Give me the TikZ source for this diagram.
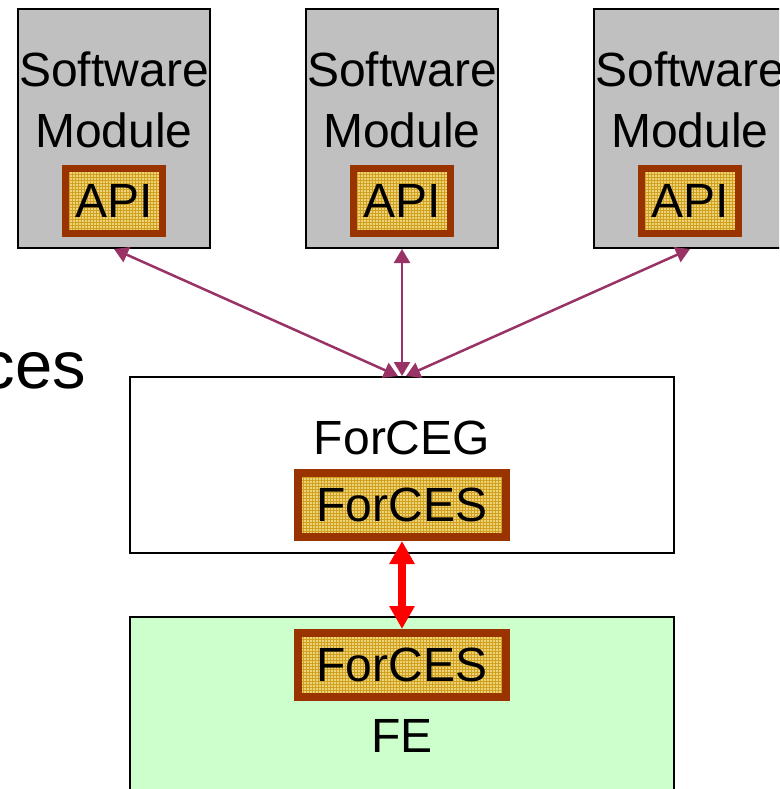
\documentclass[tikz,border=0pt]{standalone}
\usepackage{fontspec}
\setmainfont{Liberation Sans}
\usetikzlibrary{arrows.meta,patterns}
\definecolor{modgray}{RGB}{192,192,192}
\definecolor{brickred}{RGB}{153,51,0}
\definecolor{padfill}{RGB}{236,212,122}
\definecolor{padgrid}{RGB}{208,160,30}
\definecolor{linkpurple}{RGB}{153,51,102}
\definecolor{fegreen}{RGB}{204,255,204}
\tikzset{
  every node/.style={font=\fontsize{48}{57}\selectfont, inner sep=0pt},
  module/.style={draw=black, line width=2pt, fill=modgray,
    minimum width=192pt, minimum height=239pt},
  pad/.style={draw=brickred, line width=#1, preaction={fill=padfill},
    pattern=grid, pattern color=padgrid},
  apipad/.style={pad=7pt, minimum width=97pt, minimum height=65pt},
  forcespad/.style={pad=8pt, minimum width=208pt, minimum height=64pt},
  element/.style={draw=black, line width=2pt, minimum width=544pt},
  link/.style={linkpurple, line width=2.5pt,
    {Triangle[length=14pt,width=16pt]}-{Triangle[length=14pt,width=16pt]}},
  forceslink/.style={red, line width=8pt,
    {Triangle[length=23pt,width=24pt]}-{Triangle[length=23pt,width=24pt]}},
}
\begin{document}
\begin{tikzpicture}[x=1pt,y=-1pt]
  \useasboundingbox (0,0) rectangle (779,789);
  \fill[white] (0,0) rectangle (779,789);
  \clip (0,0) rectangle (779,789);

  % heading fragment on the left
  \node[font=\fontsize{67}{80}\selectfont, anchor=base east] (heading) at (86,388) {ces};

  % software modules, each exposing an API
  \foreach \i/\x in {1/114, 2/402, 3/690} {
    \node[module] (m\i) at (\x,128.5) {};
    \node[anchor=base] (m\i top) at (\x,87) {Software};
    \node[anchor=base] (m\i bot) at (\x,147) {Module};
    \node[apipad] (api\i) at (\x,201) {API};
  }

  % ForCES gateway
  \node[element, fill=white, minimum height=176pt] (gw) at (402,465) {};
  \node[anchor=base] (gwlabel) at (402,454) {ForCEG};
  \node[forcespad] (gwforces) at (402,505) {ForCES};

  % forwarding element
  \node[element, fill=fegreen, minimum height=203pt] (fe) at (402,718.5) {};
  \node[forcespad] (feforces) at (402,665) {ForCES};
  \node[anchor=base] (felabel) at (402,752) {FE};

  % connectors
  \draw[link] (m1.south) -- ([xshift=-4pt]gw.north);
  \draw[link] (m2.south) -- (gw.north);
  \draw[link] (m3.south) -- ([xshift=4pt]gw.north);
  \draw[forceslink] (gwforces.south) -- (feforces.north);
\end{tikzpicture}
\end{document}
